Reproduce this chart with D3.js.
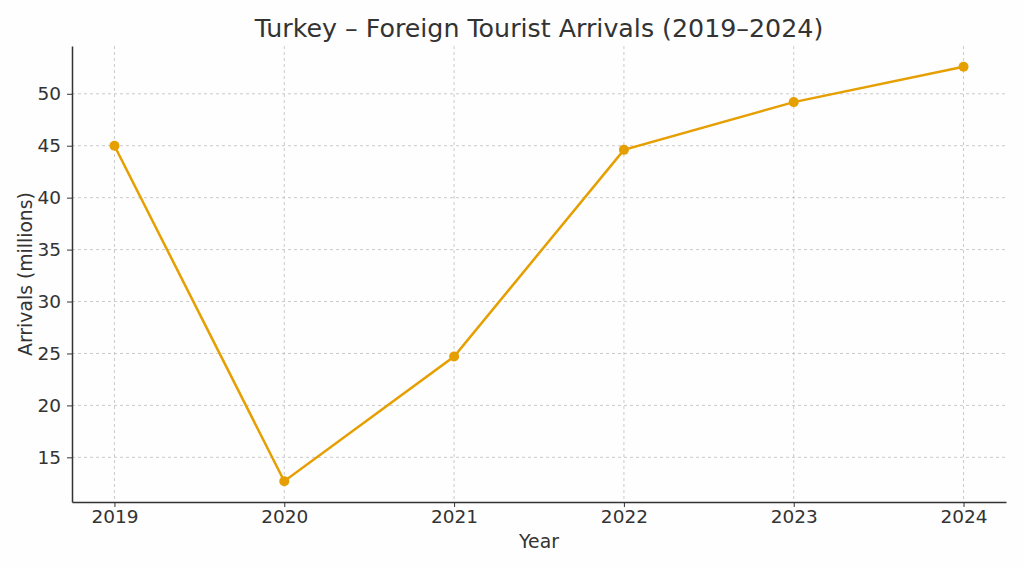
<!DOCTYPE html>
<html>
<head>
<meta charset="utf-8">
<script src="https://cdn.jsdelivr.net/npm/d3@7"></script>
<style>
  body { margin: 0; background: #fefefe; }
  svg { font-family: "DejaVu Sans", sans-serif; }
</style>
</head>
<body>
<div id="chart"></div>
<script>
// Data
const years = [2019, 2020, 2021, 2022, 2023, 2024];
const arrivals = [45.0, 12.7, 24.7, 44.6, 49.2, 52.6];
const yTicks = [15, 20, 25, 30, 35, 40, 45, 50];

const width = 1024, height = 569;
const margin = { top: 46, right: 18, bottom: 67, left: 72 };
const color = '#e69f00';
const ink = '#333333';
const font = '"DejaVu Sans", sans-serif';

const svg = d3.select('#chart')
  .append('svg')
  .attr('width', width)
  .attr('height', height);

const x = d3.scaleLinear()
  .domain([2018.75, 2024.25])
  .range([margin.left, width - margin.right]);

const y = d3.scaleLinear()
  .domain([10.7, 54.6])
  .range([height - margin.bottom, margin.top]);

// Grid
const grid = svg.append('g')
  .attr('stroke', '#c4c4c4')
  .attr('stroke-width', 0.9)
  .attr('stroke-dasharray', '3,3');

grid.selectAll('.gx')
  .data(years)
  .join('line')
  .attr('x1', d => x(d)).attr('x2', d => x(d))
  .attr('y1', margin.top).attr('y2', height - margin.bottom);

grid.selectAll('.gy')
  .data(yTicks)
  .join('line')
  .attr('x1', margin.left).attr('x2', width - margin.right)
  .attr('y1', d => y(d)).attr('y2', d => y(d));

// Axes
const xAxis = svg.append('g')
  .attr('transform', `translate(0,${height - margin.bottom})`)
  .call(d3.axisBottom(x).tickValues(years).tickFormat(d3.format('d')).tickSize(5).tickPadding(3).tickSizeOuter(0));

const yAxis = svg.append('g')
  .attr('transform', `translate(${margin.left},0)`)
  .call(d3.axisLeft(y).tickValues(yTicks).tickSize(5).tickPadding(6).tickSizeOuter(0));

[xAxis, yAxis].forEach(g => {
  g.attr('font-family', font).attr('font-size', 18.5);
  g.select('.domain').attr('stroke', ink).attr('stroke-width', 1.5);
  g.selectAll('.tick line').attr('stroke', ink).attr('stroke-width', 1);
  g.selectAll('.tick text').attr('fill', ink);
});

// Line
const line = d3.line()
  .x((d, i) => x(years[i]))
  .y(d => y(d));

svg.append('path')
  .datum(arrivals)
  .attr('fill', 'none')
  .attr('stroke', color)
  .attr('stroke-width', 2.5)
  .attr('d', line);

svg.selectAll('.dot')
  .data(arrivals)
  .join('circle')
  .attr('cx', (d, i) => x(years[i]))
  .attr('cy', d => y(d))
  .attr('r', 5)
  .attr('fill', color);

// Labels
svg.append('text')
  .attr('x', (margin.left + width - margin.right) / 2)
  .attr('y', 37)
  .attr('text-anchor', 'middle')
  .attr('fill', ink)
  .style('font-size', '25.3px')
  .text('Turkey – Foreign Tourist Arrivals (2019–2024)');

svg.append('text')
  .attr('x', (margin.left + width - margin.right) / 2)
  .attr('y', 548)
  .attr('text-anchor', 'middle')
  .attr('fill', ink)
  .style('font-size', '18.8px')
  .text('Year');

svg.append('text')
  .attr('transform', `translate(32,${(margin.top + height - margin.bottom) / 2}) rotate(-90)`)
  .attr('text-anchor', 'middle')
  .attr('fill', ink)
  .style('font-size', '18.8px')
  .text('Arrivals (millions)');
</script>
</body>
</html>
